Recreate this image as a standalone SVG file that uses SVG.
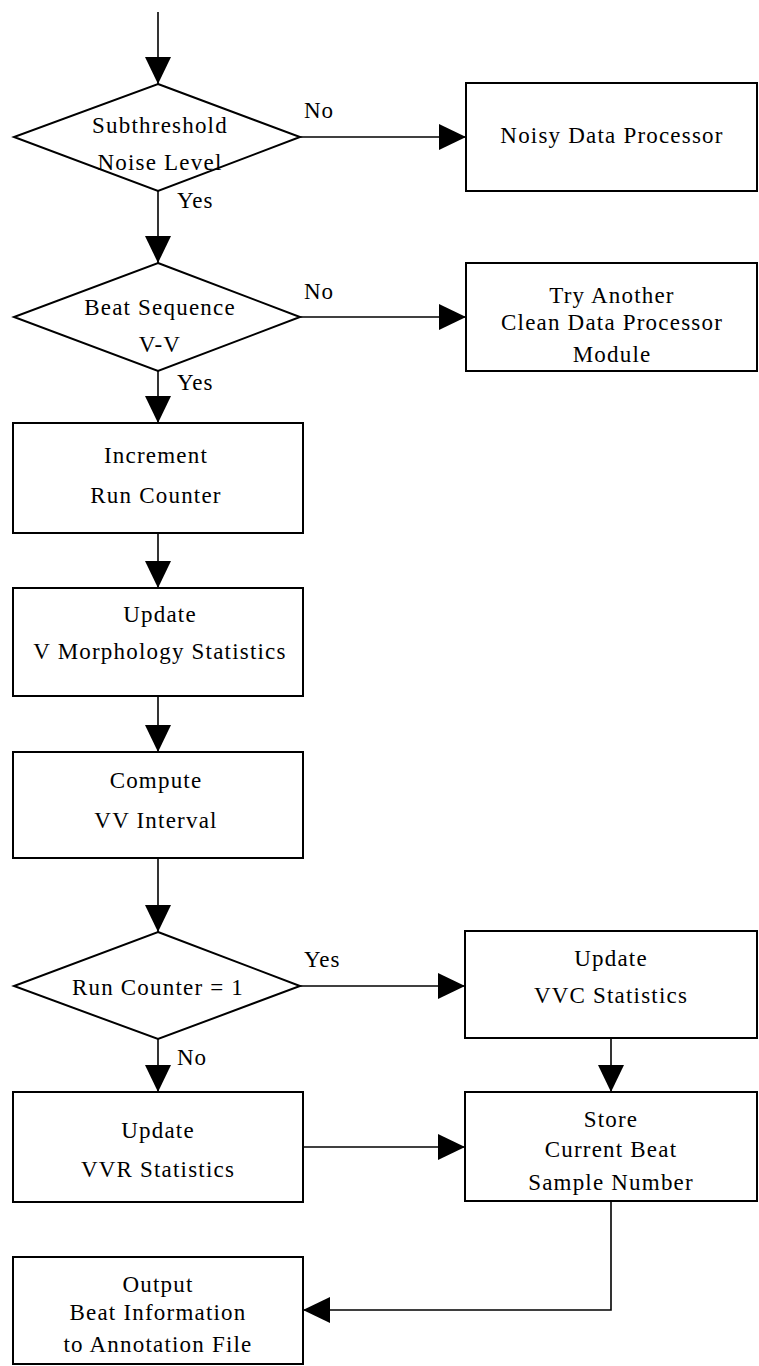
<svg xmlns="http://www.w3.org/2000/svg" width="759" height="1366" viewBox="0 0 759 1366">
<style>
.box{fill:#fff;stroke:#000;stroke-width:2}
.ln{fill:none;stroke:#000;stroke-width:1.6}
.t{font-family:"Liberation Serif","Times New Roman",serif;font-size:23px;letter-spacing:1.2px;text-anchor:middle;fill:#000}
.l{font-family:"Liberation Serif","Times New Roman",serif;font-size:23px;letter-spacing:1px;fill:#000}
</style>
<defs>
<marker id="ah" viewBox="0 0 27 26" refX="27" refY="13" markerWidth="27" markerHeight="26" markerUnits="userSpaceOnUse" orient="auto">
<path d="M0,0 L27,13 L0,26 z" fill="#000"/>
</marker>
</defs>
<rect width="759" height="1366" fill="#fff"/>
<g id="connectors">
<path class="ln" d="M158,12 V84" marker-end="url(#ah)"/>
<path class="ln" d="M300,137 H466" marker-end="url(#ah)"/>
<path class="ln" d="M158,191 V263" marker-end="url(#ah)"/>
<path class="ln" d="M300,317 H466" marker-end="url(#ah)"/>
<path class="ln" d="M158,371 V423" marker-end="url(#ah)"/>
<path class="ln" d="M158,533 V588" marker-end="url(#ah)"/>
<path class="ln" d="M158,696 V752" marker-end="url(#ah)"/>
<path class="ln" d="M158,858 V932" marker-end="url(#ah)"/>
<path class="ln" d="M300,986 H465" marker-end="url(#ah)"/>
<path class="ln" d="M158,1039 V1092" marker-end="url(#ah)"/>
<path class="ln" d="M611,1038 V1092" marker-end="url(#ah)"/>
<path class="ln" d="M303,1147 H465" marker-end="url(#ah)"/>
<path class="ln" d="M611,1201 V1310 H303" marker-end="url(#ah)"/>
<text class="l" x="304" y="118">No</text>
<text class="l" x="177" y="208">Yes</text>
<text class="l" x="304" y="299">No</text>
<text class="l" x="177" y="390">Yes</text>
<text class="l" x="304" y="967">Yes</text>
<text class="l" x="177" y="1065">No</text>
</g>
<g id="d1">
<polygon class="box" points="158,84 300,137 158,191 14,137"/>
<text class="t" x="160" y="133">Subthreshold</text>
<text class="t" x="160" y="170">Noise Level</text>
</g>
<g id="noisy">
<rect class="box" x="466" y="83" width="291" height="108"/>
<text class="t" x="612" y="143">Noisy Data Processor</text>
</g>
<g id="d2">
<polygon class="box" points="158,263 300,317 158,371 14,317"/>
<text class="t" x="160" y="315">Beat Sequence</text>
<text class="t" x="160" y="352">V-V</text>
</g>
<g id="try">
<rect class="box" x="466" y="263" width="291" height="108"/>
<text class="t" x="612" y="303">Try Another</text>
<text class="t" x="612" y="330">Clean Data Processor</text>
<text class="t" x="612" y="362">Module</text>
</g>
<g id="inc">
<rect class="box" x="13" y="423" width="290" height="110"/>
<text class="t" x="156" y="463">Increment</text>
<text class="t" x="156" y="503">Run Counter</text>
</g>
<g id="vmorph">
<rect class="box" x="13" y="588" width="290" height="108"/>
<text class="t" x="160" y="622">Update</text>
<text class="t" x="160" y="659">V Morphology Statistics</text>
</g>
<g id="vv">
<rect class="box" x="13" y="752" width="290" height="106"/>
<text class="t" x="156" y="788">Compute</text>
<text class="t" x="156" y="828">VV Interval</text>
</g>
<g id="d3">
<polygon class="box" points="158,932 300,986 158,1039 14,986"/>
<text class="t" x="158" y="995">Run Counter = 1</text>
</g>
<g id="vvc">
<rect class="box" x="465" y="931" width="292" height="107"/>
<text class="t" x="611" y="966">Update</text>
<text class="t" x="611" y="1003">VVC Statistics</text>
</g>
<g id="vvr">
<rect class="box" x="13" y="1092" width="290" height="110"/>
<text class="t" x="158" y="1138">Update</text>
<text class="t" x="158" y="1177">VVR Statistics</text>
</g>
<g id="store">
<rect class="box" x="465" y="1092" width="292" height="109"/>
<text class="t" x="611" y="1127">Store</text>
<text class="t" x="611" y="1157">Current Beat</text>
<text class="t" x="611" y="1190">Sample Number</text>
</g>
<g id="output">
<rect class="box" x="13" y="1257" width="290" height="107"/>
<text class="t" x="158" y="1292">Output</text>
<text class="t" x="158" y="1320">Beat Information</text>
<text class="t" x="158" y="1352">to Annotation File</text>
</g>
</svg>
